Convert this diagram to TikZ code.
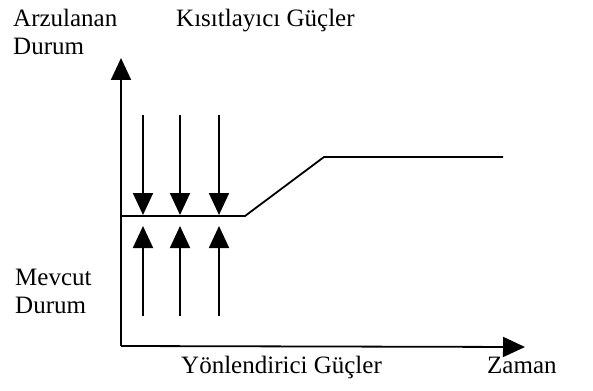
\documentclass[tikz,border=0pt]{standalone}
\usepackage{fontspec}
\setmainfont{Liberation Serif}
\usetikzlibrary{arrows.meta}
\begin{document}
\begin{tikzpicture}[x=1pt,y=-1pt,
  lbl/.style={anchor=base west,inner sep=0pt,font=\fontsize{25}{28}\selectfont},
  ln/.style={line width=1.8pt},
  tip/.style={ln,-{Triangle[width=20pt,length=22pt]}}]
\useasboundingbox (0,0) rectangle (593,390);
% axes
\coordinate (o) at (121,346);
\coordinate (ytop) at (121,58);
\coordinate (xend) at (525,347);
\draw[tip] (o) -- (ytop);
\draw[tip] (o) -- (xend);
% level line
\coordinate (l0) at (121,216);
\coordinate (l1) at (245,216);
\coordinate (l2) at (324,157);
\coordinate (l3) at (503,157);
\draw[ln,line join=miter] (l0) -- (l1) -- (l2) -- (l3);
% restraining forces
\foreach \i/\x in {1/143,2/180,3/219}{
  \coordinate (ds\i) at (\x,115);
  \coordinate (de\i) at (\x,215);
  \draw[tip] (ds\i) -- (de\i);
  \coordinate (us\i) at (\x,316);
  \coordinate (ue\i) at (\x,226);
  \draw[tip] (us\i) -- (ue\i);
}
% labels
\node[lbl] (arz) at (13,27) {Arzulanan};
\node[lbl] (dur1) at (13,55) {Durum};
\node[lbl] (kis) at (176,27) {Kısıtlayıcı Güçler};
\node[lbl] (mev) at (15,285) {Mevcut};
\node[lbl] (dur2) at (15,313) {Durum};
\node[lbl] (yon) at (181,373) {Yönlendirici Güçler};
\node[lbl] (zam) at (487,373) {Zaman};
\end{tikzpicture}
\end{document}
